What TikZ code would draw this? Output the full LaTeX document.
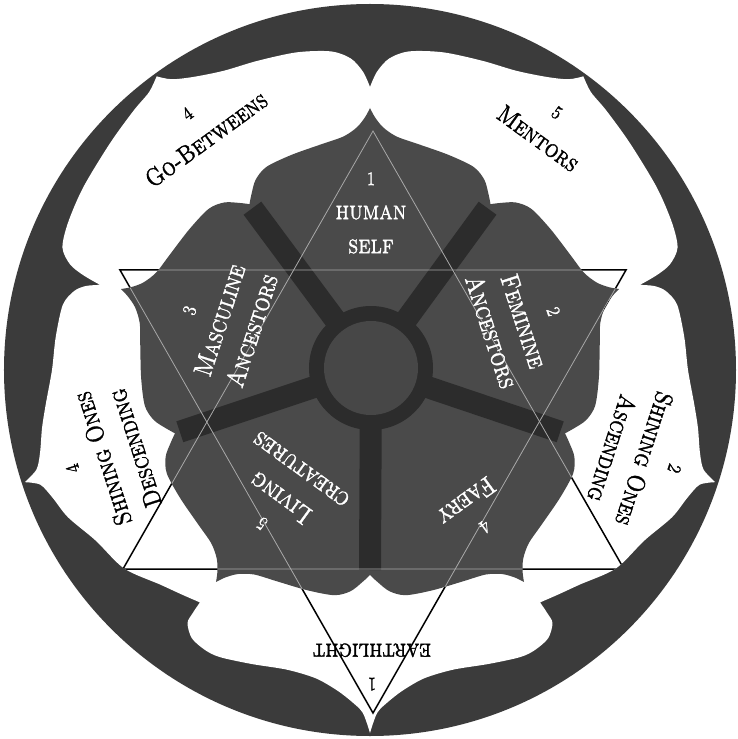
\documentclass[tikz,border=0pt]{standalone}
\usepackage{fontspec}
\newfontfamily\uncial{lmromancaps10-regular.otf}[FakeBold=1.4]
\begin{document}
\definecolor{ringgray}{HTML}{3B3B3B}
\definecolor{petalgray}{HTML}{4A4A4A}
\definecolor{spokegray}{HTML}{2C2C2C}
\definecolor{centregray}{HTML}{474747}
\definecolor{lightline}{HTML}{A8A8A8}
\newcommand\whitepath{(90:283)
 -- plot[smooth] coordinates {(90:283) (91.3:298) (93.5:312) (97:321) (103:326) (110:329) (116:333) (121:342) (124.3:352) (126:363)}
 -- plot[smooth] coordinates {(126:363) (128.5:355) (132.3:351) (138.9:345) (147.5:340) (154:336) (158.3:331) (160.6:318) (161.7:302) (162.5:283)}
 -- plot[smooth] coordinates {(162.5:283) (163.5:296) (165:306) (168:314) (174:316) (180:318) (186:326) (190:333) (194:340) (196.6:348) (198:363)}
 -- plot[smooth] coordinates {(198:363) (199.2:349) (202:342) (206:336) (211.9:323) (218.9:316) (225.7:300) (230:293) (233.8:288)}
 -- plot[smooth] coordinates {(233.8:288) (233.9:301) (234.2:312) (236.4:322) (239.5:325) (242.4:324) (248:317) (254.5:311) (260:313) (264.1:322) (266.8:332) (268.8:343) (270:363)}
 -- plot[smooth] coordinates {(-90:363) (-88.8:343) (-86.8:332) (-84.1:322) (-80:313) (-74.5:311) (-68:317) (-62.4:324) (-59.5:325) (-56.4:322) (-54.2:312) (-53.9:301) (-53.8:288)}
 -- plot[smooth] coordinates {(-53.8:288) (-50:293) (-45.7:300) (-38.9:316) (-31.9:323) (-26:336) (-22:342) (-19.2:349) (-18:363)}
 -- plot[smooth] coordinates {(-18:363) (-16.6:348) (-14:340) (-10:333) (-6:326) (0:318) (6:316) (12:314) (15:306) (16.5:296) (17.5:283)}
 -- plot[smooth] coordinates {(17.5:283) (18.3:302) (19.4:318) (21.7:331) (26:336) (32.5:340) (41.1:345) (47.7:351) (51.5:355) (54:363)}
 -- plot[smooth] coordinates {(54:363) (55.7:352) (59:342) (64:333) (70:329) (77:326) (83:321) (86.5:312) (88.7:298) (90:283)}
 -- cycle}
\newcommand\petalspath{(126:205) \foreach \p in {90,18,-54,-126,-198} { -- plot[smooth] coordinates {(\p+36:205) (\p+34:212) (\p+31:222) (\p+27:228) (\p+20:229) (\p+12:231) (\p+6.5:235) (\p+3.1:243) (\p+1.1:253) (\p:262)} -- plot[smooth] coordinates {(\p:262) (\p-1.1:253) (\p-3.1:243) (\p-6.5:235) (\p-12:231) (\p-20:229) (\p-27:228) (\p-31:222) (\p-34:212) (\p-36:205)} } -- cycle}
\newcommand\numfont{\fontsize{19}{34}\selectfont}
\begin{tikzpicture}[x=1pt,y=1pt,
  petaltext/.style={text=white, align=center, inner sep=0pt, font=\uncial\fontsize{26}{34}\selectfont},
  lobetext/.style={text=black, align=center, inner sep=0pt, font=\uncial\fontsize{25}{34}\selectfont},
  blackline/.style={draw=black, line width=1.5pt, line join=miter},
  faintline/.style={draw=lightline, line width=0.8pt},
  spoke/.style={draw=spokegray, line width=22pt}]
\useasboundingbox (-370,-369) rectangle (368,370);
\fill[white] (-370,-369) rectangle (368,370);
% outer ring
\fill[ringgray] (0,0) circle (366);
% white rose
\fill[white] \whitepath;
% hexagram corners
\coordinate (d1) at (-250,100);
\coordinate (d2) at (256,100);
\coordinate (d3) at (3,-343);
\coordinate (u1) at (-247,-199);
\coordinate (u2) at (254,-199);
\coordinate (u3) at (3,239);
\begin{scope}
  \clip \whitepath;
  \draw[blackline] (d1) -- (d2) -- (d3) -- cycle;
  \draw[blackline] (u1) -- (u2) -- (u3) -- cycle;
\end{scope}
% inner petals
\fill[petalgray] \petalspath;
% spokes
\coordinate (ctr) at (1,2);
\foreach \a/\n in {126/n1,54/n2,-18/n3,-90/n4,-162/n5} {
  \coordinate (\n) at (\a:200);
  \draw[spoke] (ctr) -- (\n);
}
\begin{scope}
  \clip \petalspath;
  \draw[faintline] (d1) -- (d2) -- (d3) -- cycle;
  \draw[faintline] (u1) -- (u2) -- (u3) -- cycle;
\end{scope}
% centre
\fill[spokegray] (ctr) circle (62);
\fill[centregray] (ctr) circle (47);
% petal texts
\node[petaltext, xscale=0.85] (tself) at (1,157) {{\numfont 1}\\human\\self};
\node[petaltext, rotate=72, xscale=0.85] (tmasc) at (-148,49) {{\numfont 3}\\Masculine\\Ancestors};
\node[petaltext, rotate=-72, xscale=0.85] (tfem) at (151,48) {{\numfont 2}\\Feminine\\Ancestors};
\node[petaltext, rotate=-144, xscale=0.85] (tfaery) at (105,-143) {{\numfont 4}\\Faery};
\node[petaltext, rotate=144, xscale=0.85] (tliving) at (-88,-126) {{\numfont 5}\\Living\\creatures};
% lobe texts
\node[lobetext, rotate=180, xscale=0.85] (tearth) at (2,-297) {{\numfont 1}\\earthlight};
\node[lobetext, rotate=36, xscale=0.85] (tgo) at (-172.5,242.5) {{\numfont 4}\\Go-Betweens};
\node[lobetext, rotate=-36, xscale=0.85] (tment) at (177,243.5) {{\numfont 5}\\Mentors};
\node[lobetext, rotate=108, xscale=0.85] (tdesc) at (-265,-88) {{\numfont 4}\\Shining Ones\\Descending};
\node[lobetext, rotate=-108, xscale=0.85] (tasc) at (272,-88) {{\numfont 2}\\Shining Ones\\Ascending};
\end{tikzpicture}
\end{document}
